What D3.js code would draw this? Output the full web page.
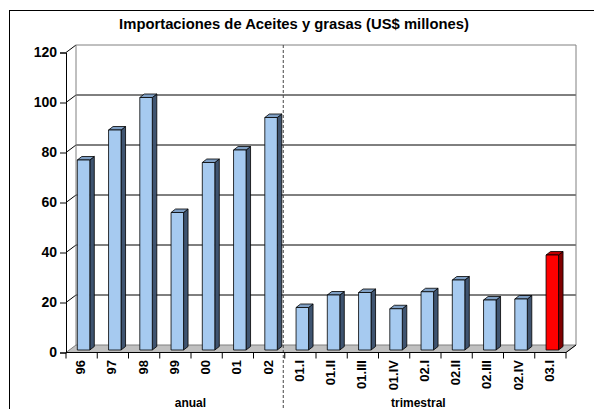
<!DOCTYPE html>
<html>
<head>
<meta charset="utf-8">
<script src="https://cdn.jsdelivr.net/npm/d3@7"></script>
<style>
  body { margin: 0; background: #fff; }
  svg { display: block; font-family: Arial, "Liberation Sans", sans-serif; }
</style>
</head>
<body>
<svg id="chart" width="594" height="409"></svg>
<script>
// categories and values
const categories = ['96', '97', '98', '99', '00', '01', '02',
  '01.I', '01.II', '01.III', '01.IV', '02.I', '02.II', '02.III', '02.IV', '03.I'];
const values = [76, 88, 101, 55, 75, 80, 93,
  17, 22, 23, 16.5, 23.3, 28, 20, 20.4, 38];
const highlight = ['03.I'];
const yTicks = [0, 20, 40, 60, 80, 100, 120];
const groups = [
  {label: 'anual', from: '96', to: '02'},
  {label: 'trimestral', from: '01.I', to: '03.I'}
];

const svg = d3.select('#chart');

// front plane and depth offset of the back wall
const left = 66, right = 566;
const depthX = 10, depthY = -7.5;

const x = d3.scaleBand().domain(categories).range([left, right]);
const y = d3.scaleLinear().domain([0, 120]).range([352.5, 52.5]);
// bars stand a bit inside the floor
const barDY = -2.5;
const yBar = d3.scaleLinear().domain([0, 120]).range([y(0) + barDY, y(120) + barDY]);

// outer frame
svg.append('rect')
    .attr('x', 9.5).attr('y', 10.5)
    .attr('width', 600).attr('height', 420)
    .attr('fill', 'none').attr('stroke', '#000');

svg.append('text')
    .attr('x', 294).attr('y', 29)
    .attr('text-anchor', 'middle')
    .attr('font-size', 14.8).attr('font-weight', 'bold')
    .text('Importaciones de Aceites y grasas (US$ millones)');

const bx0 = left + depthX, bx1 = right + depthX;
const by = v => y(v) + depthY;

// floor
svg.append('path')
    .attr('d', `M${left},${y(0)}L${right},${y(0)}L${bx1},${by(0)}L${bx0},${by(0)}Z`)
    .attr('fill', '#c0c0c0').attr('stroke', '#808080');

// back wall gridlines
svg.append('g').selectAll('line')
    .data(yTicks.filter(d => d > 0 && d < 120))
  .join('line')
    .attr('x1', bx0).attr('x2', bx1)
    .attr('y1', d => by(d)).attr('y2', d => by(d))
    .attr('stroke', '#000');

// left wall diagonals
svg.append('g').selectAll('line')
    .data(yTicks.filter(d => d > 0))
  .join('line')
    .attr('x1', left).attr('x2', bx0)
    .attr('y1', d => y(d)).attr('y2', d => by(d))
    .attr('stroke', '#000');

// back wall outline
svg.append('path')
    .attr('d', `M${bx0},${by(0)}V${by(120)}H${bx1}V${by(0)}`)
    .attr('fill', 'none').attr('stroke', '#808080');

// floor right edge
svg.append('line')
    .attr('x1', right).attr('y1', y(0)).attr('x2', bx1).attr('y2', by(0))
    .attr('stroke', '#000');

// separator between annual and quarterly data
const sepX = x('01.I') - 1.5;
svg.append('line')
    .attr('x1', sepX).attr('x2', sepX)
    .attr('y1', by(120)).attr('y2', 409)
    .attr('stroke', '#444').attr('stroke-dasharray', '3,2');

// y axis
const yAxisG = svg.append('g')
    .attr('transform', `translate(${left},0)`)
    .call(d3.axisLeft(y).tickValues(yTicks).tickSize(6).tickPadding(3));
yAxisG.select('.domain').attr('stroke', '#000');
yAxisG.selectAll('text').attr('font-size', 14).attr('font-weight', 'bold')
    .attr('fill', '#000').attr('font-family', 'Arial, "Liberation Sans", sans-serif');

// x axis
const xAxisG = svg.append('g')
    .attr('transform', `translate(0,${y(0)})`)
    .call(d3.axisBottom(x).tickSize(0).tickFormat(''));
xAxisG.select('.domain').attr('d', `M${left},0H${right}`).attr('stroke', '#000');
xAxisG.selectAll('.tick').remove();
xAxisG.selectAll('.sep')
    .data(categories.map(c => x(c)).concat([right]))
  .join('line')
    .attr('x1', d => d).attr('x2', d => d)
    .attr('y1', 0).attr('y2', 6)
    .attr('stroke', '#000');

svg.append('g').selectAll('text')
    .data(categories)
  .join('text')
    .attr('transform', d => `translate(${x(d) + x.bandwidth() / 2 - 1},360) rotate(-90)`)
    .attr('text-anchor', 'end')
    .attr('dy', '0.35em')
    .attr('font-size', 13).attr('font-weight', 'bold')
    .text(d => d);

// group captions sit slightly off the group centres, as in the original
const groupShift = [15, -7];
svg.append('g').selectAll('text')
    .data(groups)
  .join('text')
    .attr('x', (d, i) => (x(d.from) + x(d.to) + x.bandwidth()) / 2 + groupShift[i])
    .attr('y', 406.5)
    .attr('text-anchor', 'middle')
    .attr('font-size', 12).attr('font-weight', 'bold')
    .text(d => d.label);

// 3D bars
const faceW = 12.5, sideX = 4.5, sideY = -3.5;
const barG = svg.append('g');
categories.forEach((c, i) => {
  const hot = highlight.includes(c);
  const x0 = x(c) + 11.3, x1 = x0 + faceW;
  const yb = yBar(0), yt = yBar(values[i]);
  const g = barG.append('g').attr('stroke', '#000').attr('stroke-width', 0.8)
      .attr('stroke-linejoin', 'round');
  g.append('path')
      .attr('d', `M${x1},${yb}L${x1 + sideX},${yb + sideY}L${x1 + sideX},${yt + sideY}L${x1},${yt}Z`)
      .attr('fill', hot ? '#800000' : '#3f5470');
  g.append('path')
      .attr('d', `M${x0},${yt}L${x0 + sideX},${yt + sideY}L${x1 + sideX},${yt + sideY}L${x1},${yt}Z`)
      .attr('fill', hot ? '#c00000' : '#7f9fc4');
  g.append('rect')
      .attr('x', x0).attr('y', yt)
      .attr('width', faceW).attr('height', yb - yt)
      .attr('fill', hot ? '#ff0000' : '#a6caf0');
});
</script>
</body>
</html>
